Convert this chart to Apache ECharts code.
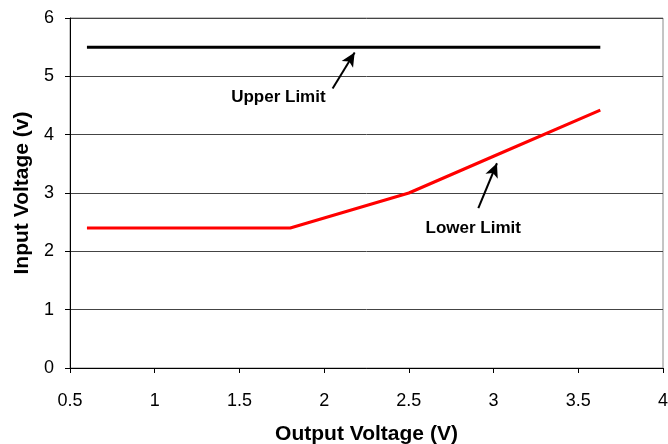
<!DOCTYPE html>
<html>
<head>
<meta charset="utf-8">
<script src="https://cdn.jsdelivr.net/npm/echarts@6/dist/echarts.min.js"></script>
<style>
html,body{margin:0;padding:0;background:#fff;}
#chart{width:668px;height:444px;}
</style>
</head>
<body>
<div id="chart"></div>
<script>
// data
var upperX = [0.6, 3.63];
var upperY = [5.5, 5.5];
var lowerX = [0.6, 1.8, 2.5, 3.0, 3.63];
var lowerY = [2.4, 2.4, 3.0, 3.63, 4.42];
var upperArrow = [[2.05, 4.79], [2.18, 5.41]];
var lowerArrow = [[2.91, 2.74], [3.02, 3.51]];
var labelUpper = [1.73, 4.64];
var labelLower = [2.88, 2.40];

function pairs(xs, ys) {
  var out = [];
  for (var i = 0; i < xs.length; i++) out.push([xs[i], ys[i]]);
  return out;
}

var font = 'Liberation Sans, Arial, sans-serif';
var myChart = echarts.init(document.getElementById('chart'));
var option = {
  animation: false,
  grid: {
    left: 70, right: 5, top: 18, bottom: 76,
    outerBoundsMode: 'none', containLabel: false,
    show: true, borderColor: '#8a8a8a', borderWidth: 1
  },
  xAxis: {
    type: 'value', min: 0.5, max: 4, interval: 0.5,
    name: 'Output Voltage (V)', nameLocation: 'middle', nameGap: 56,
    nameTextStyle: { fontFamily: font, fontSize: 21, fontWeight: 'bold', color: '#000' },
    axisLine: { show: true, lineStyle: { color: '#000' } },
    axisTick: { show: true, length: 5, lineStyle: { color: '#000' } },
    axisLabel: { fontFamily: font, fontSize: 18, color: '#000', margin: 24 },
    splitLine: { show: false }
  },
  yAxis: {
    type: 'value', min: 0, max: 6, interval: 1,
    name: 'Input Voltage (v)', nameLocation: 'middle', nameGap: 37,
    nameTextStyle: { fontFamily: font, fontSize: 21, fontWeight: 'bold', color: '#000' },
    axisLine: { show: true, lineStyle: { color: '#000' } },
    axisTick: { show: true, length: 5, lineStyle: { color: '#000' } },
    axisLabel: { fontFamily: font, fontSize: 18, color: '#000', margin: 16 },
    splitLine: { show: true, lineStyle: { color: '#444', width: 1 } }
  },
  series: [
    {
      name: 'Upper Limit', type: 'line', data: pairs(upperX, upperY),
      showSymbol: false, lineStyle: { color: '#000', width: 3 }
    },
    {
      name: 'Lower Limit', type: 'line', data: pairs(lowerX, lowerY),
      showSymbol: false, lineStyle: { color: '#ff0000', width: 3 }
    },
    {
      type: 'line', data: [], silent: true,
      markLine: {
        silent: true, symbol: ['none', 'arrow'], symbolSize: [10, 14],
        label: { show: false },
        lineStyle: { color: '#000', width: 2, type: 'solid' },
        data: [
          [{ coord: upperArrow[0] }, { coord: upperArrow[1] }],
          [{ coord: lowerArrow[0] }, { coord: lowerArrow[1] }]
        ]
      }
    },
    {
      type: 'scatter', symbolSize: 0, silent: true,
      itemStyle: { color: '#000', opacity: 1 },
      data: [
        { value: labelUpper, label: { formatter: 'Upper Limit' } },
        { value: labelLower, label: { formatter: 'Lower Limit' } }
      ],
      label: {
        show: true, position: 'inside',
        fontFamily: font, fontSize: 17, fontWeight: 'bold', color: '#000',
        textBorderWidth: 0
      }
    }
  ]
};
myChart.setOption(option);
</script>
</body>
</html>
